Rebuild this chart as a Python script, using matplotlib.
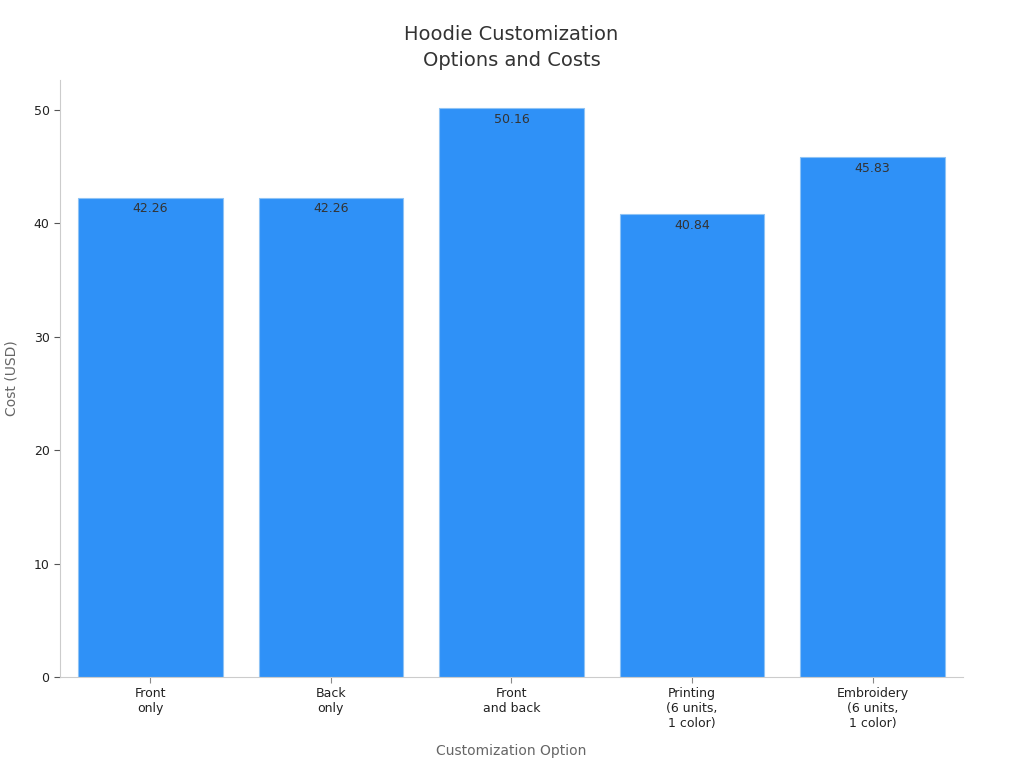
import matplotlib
matplotlib.use("Agg")
import matplotlib.pyplot as plt

categories = ["Front\nonly", "Back\nonly", "Front\nand back",
              "Printing\n(6 units,\n1 color)", "Embroidery\n(6 units,\n1 color)"]
costs = [42.26, 42.26, 50.16, 40.84, 45.83]

plt.rcParams['font.family'] = ['DejaVu Sans']
fig = plt.figure(figsize=(10.24, 7.68), dpi=100)
ax = fig.add_axes([0.0586, 0.1185, 0.8818, 0.7775])

x = list(range(len(categories)))
bars = ax.bar(x, costs, width=0.8, color="#2F91F7", edgecolor="#8EC3F5", linewidth=0.8)
for b, v in zip(bars, costs):
    ax.text(b.get_x() + b.get_width() / 2, v - 0.4, f"{v:.2f}", ha="center", va="top",
            fontsize=9, color="#333333")

ax.set_xlim(-0.5, 4.5)
ax.set_ylim(0, max(costs) * 1.05)
ax.set_xticks(x)
ax.set_xticklabels(categories, fontsize=9, color="#222222")
ax.set_yticks([0, 10, 20, 30, 40, 50])
ax.tick_params(axis='y', labelsize=9, labelcolor="#222222", color="#555555", length=4)
ax.tick_params(axis='x', color="#888888", length=4)
for s in ["top", "right"]:
    ax.spines[s].set_visible(False)
for s in ["left", "bottom"]:
    ax.spines[s].set_color("#cccccc")
ax.set_xlabel("Customization Option", fontsize=10, color="#666666", labelpad=10)
ax.set_ylabel("Cost (USD)", fontsize=10, color="#666666", labelpad=11)
ax.set_title("Hoodie Customization\nOptions and Costs", fontsize=14, color="#333333",
             pad=10, linespacing=1.45)

fig.savefig("out.png", dpi=100)
